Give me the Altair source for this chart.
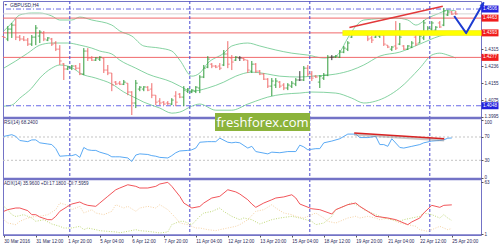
import altair as alt
import pandas as pd

# ---------------- data ----------------
bar_open = [1.4376,1.4364,1.4411,1.4430,1.4373,1.4364,1.4359,1.4340,1.4373,1.4378,
            1.4392,1.4359,1.4364,1.4345,1.4316,1.4246,1.4222,1.4226,1.4236,1.4226,
            1.4198,1.4307,1.4274,1.4264,1.4269,1.4274,1.4217,1.4203,1.4160,1.4155,
            1.4150,1.4155,1.4113,1.4061,1.4127,1.4127,1.4136,1.4127,1.4098,1.4070,
            1.4065,1.4061,1.4056,1.4094,1.4103,1.4089,1.4117,1.4113,1.4117,1.4132,
            1.4184,1.4231,1.4245,1.4236,1.4236,1.4241,1.4293,1.4274,1.4264,1.4274,
            1.4272,1.4264,1.4212,1.4245,1.4212,1.4198,1.4174,1.4141,1.4146,1.4160,
            1.4146,1.4132,1.4141,1.4151,1.4170,1.4170,1.4226,1.4198,1.4188,1.4160,
            1.4179,1.4193,1.4278,1.4278,1.4278,1.4302,1.4316,1.4373,1.4388,1.4397,
            1.4392,1.4383,1.4369,1.4373,1.4378,1.4383,1.4335,1.4316,1.4331,1.4340,
            1.4331,1.4316,1.4326,1.4373,1.4345,1.4369,1.4392,1.4411,1.4406,1.4440,
            1.4430,1.4478,1.4492,1.4487]
bar_high = [1.4378,1.4425,1.4440,1.4459,1.4383,1.4378,1.4369,1.4383,1.4430,1.4406,
            1.4402,1.4373,1.4369,1.4354,1.4335,1.4250,1.4236,1.4241,1.4241,1.4250,
            1.4321,1.4321,1.4283,1.4278,1.4283,1.4274,1.4241,1.4203,1.4165,1.4165,
            1.4170,1.4155,1.4117,1.4170,1.4141,1.4141,1.4141,1.4155,1.4098,1.4084,
            1.4070,1.4070,1.4084,1.4117,1.4108,1.4141,1.4132,1.4127,1.4141,1.4193,
            1.4241,1.4283,1.4250,1.4241,1.4250,1.4312,1.4354,1.4288,1.4283,1.4283,
            1.4274,1.4264,1.4260,1.4250,1.4217,1.4203,1.4179,1.4179,1.4179,1.4165,
            1.4155,1.4155,1.4165,1.4179,1.4212,1.4236,1.4241,1.4212,1.4193,1.4193,
            1.4203,1.4288,1.4288,1.4288,1.4312,1.4331,1.4354,1.4392,1.4402,1.4402,
            1.4402,1.4383,1.4378,1.4402,1.4402,1.4383,1.4335,1.4331,1.4449,1.4440,
            1.4335,1.4335,1.4354,1.4383,1.4383,1.4454,1.4425,1.4449,1.4425,1.4449,
            1.4511,1.4501,1.4497,1.4497]
bar_low = [1.4369,1.4354,1.4369,1.4359,1.4354,1.4354,1.4331,1.4331,1.4335,1.4345,
           1.4354,1.4354,1.4331,1.4307,1.4241,1.4170,1.4217,1.4217,1.4217,1.4193,
           1.4193,1.4260,1.4260,1.4260,1.4260,1.4203,1.4193,1.4117,1.4146,1.4146,
           1.4146,1.4098,1.4004,1.4037,1.4117,1.4117,1.4117,1.4084,1.4051,1.4051,
           1.4051,1.4051,1.4051,1.4046,1.4084,1.4046,1.4108,1.4108,1.4108,1.4108,
           1.4179,1.4226,1.4226,1.4226,1.4217,1.4236,1.4226,1.4217,1.4260,1.4260,
           1.4260,1.4203,1.4203,1.4203,1.4193,1.4170,1.4132,1.4094,1.4132,1.4132,
           1.4122,1.4122,1.4132,1.4141,1.4165,1.4165,1.4188,1.4165,1.4179,1.4132,
           1.4170,1.4188,1.4264,1.4274,1.4274,1.4297,1.4307,1.4369,1.4383,1.4383,
           1.4383,1.4354,1.4345,1.4369,1.4369,1.4331,1.4321,1.4307,1.4312,1.4335,
           1.4312,1.4312,1.4321,1.4331,1.4345,1.4359,1.4383,1.4402,1.4402,1.4416,
           1.4425,1.4473,1.4478,1.4478]
bar_close = [1.4371,1.4411,1.4430,1.4373,1.4364,1.4359,1.4340,1.4373,1.4416,1.4397,
             1.4364,1.4369,1.4340,1.4316,1.4260,1.4222,1.4231,1.4236,1.4226,1.4198,
             1.4307,1.4274,1.4264,1.4274,1.4278,1.4217,1.4203,1.4146,1.4151,1.4150,
             1.4160,1.4113,1.4061,1.4155,1.4136,1.4137,1.4122,1.4098,1.4065,1.4061,
             1.4056,1.4058,1.4075,1.4065,1.4089,1.4122,1.4127,1.4122,1.4136,1.4184,
             1.4226,1.4269,1.4236,1.4231,1.4226,1.4293,1.4245,1.4255,1.4278,1.4274,
             1.4266,1.4217,1.4245,1.4212,1.4198,1.4174,1.4141,1.4165,1.4165,1.4141,
             1.4132,1.4146,1.4155,1.4170,1.4170,1.4226,1.4198,1.4179,1.4184,1.4188,
             1.4193,1.4278,1.4278,1.4283,1.4302,1.4321,1.4345,1.4388,1.4397,1.4388,
             1.4385,1.4364,1.4359,1.4392,1.4392,1.4340,1.4326,1.4326,1.4321,1.4373,
             1.4316,1.4331,1.4345,1.4340,1.4378,1.4440,1.4416,1.4440,1.4420,1.4421,
             1.4497,1.4492,1.4482,1.4483]

bb_up_i = [0,2,4,7,9,12,14,17,19,22,27,29,32,35,39,42,44,47,49,51,
           55,57,61,64,68,72,76,80,83,84,86,88,90,98,101,103,106,109,111,113]
bb_up_p = [1.4402,1.4440,1.4478,1.4487,1.4487,1.4473,1.4454,1.4454,1.4468,1.4454,
           1.4430,1.4402,1.4378,1.4331,1.4321,1.4307,1.4264,1.4188,1.4203,1.4250,
           1.4297,1.4331,1.4345,1.4331,1.4312,1.4297,1.4288,1.4274,1.4283,1.4302,
           1.4369,1.4425,1.4454,1.4463,1.4454,1.4430,1.4463,1.4487,1.4501,1.4497]
bb_mid_i = [0,3,6,9,12,16,19,22,24,27,29,33,36,42,44,47,51,55,58,62,
            66,69,74,77,81,83,87,90,94,99,104,109,113]
bb_mid_p = [1.4226,1.4260,1.4297,1.4335,1.4345,1.4345,1.4335,1.4321,1.4307,1.4293,
            1.4264,1.4226,1.4198,1.4160,1.4141,1.4117,1.4132,1.4160,1.4188,1.4207,
            1.4198,1.4188,1.4184,1.4188,1.4193,1.4198,1.4217,1.4241,1.4283,1.4302,
            1.4340,1.4378,1.4392]
bb_lo_i = [0,2,4,7,9,12,14,16,18,19,23,27,30,33,35,39,42,44,47,49,
           53,57,61,63,66,70,74,77,83,87,90,93,99,104,107,109,111,113]
bb_lo_p = [1.4046,1.4051,1.4084,1.4132,1.4179,1.4226,1.4241,1.4236,1.4217,1.4203,
           1.4179,1.4151,1.4113,1.4084,1.4065,1.4037,1.4013,1.4018,1.4046,1.4056,
           1.4027,1.4027,1.4056,1.4070,1.4089,1.4103,1.4108,1.4113,1.4108,1.4084,
           1.4061,1.4070,1.4132,1.4226,1.4288,1.4297,1.4288,1.4274]

rsi_i = [0,2,3,4,6,7,8,9,11,12,13,14,16,17,18,19,20,21,22,23,24,26,27,28,29,31,32,33,34,36,
         37,38,39,41,42,43,44,46,47,48,49,51,52,53,54,56,57,58,59,61,62,63,66,67,69,71,73,74,75,76,
         78,79,80,82,84,86,88,89,91,93,94,95,96,97,99,100,102,104,105,107,109,110,111,112]
rsi_v = [71,74,71,64,62,65,65,60,58,57,50,37,38,38,40,35,52,48,47,47,44,40,36,36,36,34,28,39,41,40,
         38,37,35,34,38,43,46,47,48,51,61,62,62,62,68,61,60,61,60,51,54,45,41,44,43,45,45,56,53,48,
         50,50,60,63,67,75,75,69,69,71,57,57,54,67,52,51,54,57,60,63,64,65,68,68.24]

adx_i = [0,1,3,4,6,7,8,9,11,12,13,14,16,17,19,20,21,23,24,26,28,29,31,33,34,36,38,39,41,42,
         44,45,47,49,50,52,54,56,58,59,61,62,63,65,67,68,70,72,73,74,77,79,82,83,86,88,89,91,93,96,
         98,101,102,104,105,107,109,110,112]
adx_v = [28.2,30.2,32.2,32.2,29,24.2,24.2,21.4,18.2,18.2,22.2,28.2,34.2,37,39.4,37,35.4,34.2,38.2,46.2,
         54.1,56.2,60.1,58.2,56.2,56.2,58.2,61,63,58.2,46.2,38.2,32.2,34,38.2,44.2,46.2,54.1,51.5,49,
         42.1,37,33,38.2,42.1,44.2,45.5,48.1,44.2,37,31.3,30.2,25,30.2,36.2,38.2,34.2,28.2,22.2,20.2,
         18.2,12.2,15.5,20.2,26.2,35.4,33,35.4,35.96]
pdi_i = [0,1,2,3,5,7,8,10,12,14,15,17,19,20,21,23,24,26,28,29,31,33,34,36,38,39,41,42,44,45,
         47,49,50,52,54,55,57,59,60,62,64,67,69,72,74,77,78,80,82,83,85,87,89,90,92,94,95,97,99,100,
         102,104,105,107,109,110,111,112]
pdi_v = [34.2,30,24.2,22,24.2,20.2,16.2,18.2,13,10.2,8.2,8.2,10.2,6.2,8.2,6.2,5,4.2,3.5,2.5,
         4.2,6.2,5,4.2,3,2.2,3.5,12.2,16.2,16.2,12.2,22.2,26.2,28,32.2,28,22.2,18.2,20.2,18.2,
         13,18.2,20.2,22.2,20.2,16.2,12.2,14.2,22.2,30.2,34.2,38.2,34.2,30.2,26.2,22.2,20.2,18.2,16.2,18.2,
         20.2,22.2,26.2,24.2,20.2,24.2,20.2,17.18]
mdi_i = [0,1,3,4,6,8,9,11,13,14,16,17,19,20,21,22,23,25,27,28,30,31,33,34,36,38,39,41,43,44,
         46,48,49,51,53,54,56,58,59,61,63,65,67,68,70,72,73,75,77,78,80,81,83,84,86,88,89,91,93,94,
         96,98,99,101,103,104,106,108,109,111,112]
mdi_v = [18.2,14.2,12.2,16.2,20.2,22.2,22.2,24.2,30.2,38.2,35.4,30.2,34.2,26.2,28.2,30.2,26.2,24.2,28.2,36.2,
         32.2,34.2,28.2,32.2,34.2,32.2,36.2,30.2,20.2,14.2,12.2,8.2,8.2,6.2,5,6.2,8.2,10.2,12.2,18.2,
         28.2,30.2,36.2,32.2,26.2,24.2,22.2,20.2,24.2,26.2,20.2,16.2,14.2,16.2,20.2,22.2,20.2,22.2,20.2,18.2,
         20.2,16.2,14.2,12.2,10.2,6.2,4.2,8.2,10.2,6.2,7.6]

red_levels = [1.4463, 1.4393, 1.4277]
blue_levels = [1.4506, 1.4048]
price_ticks = [1.4315, 1.4236, 1.4155, 1.4075, 1.3995]
week_starts = [16.5, 46.5, 76.5, 106.5]
time_tick_pos = [0, 8, 16, 24, 32, 40, 48, 56, 64, 72, 80, 88, 96, 104, 112]
time_tick_txt = ["30 Mar 2016", "31 Mar 12:00", "1 Apr 20:00", "5 Apr 04:00", "6 Apr 12:00",
                 "7 Apr 20:00", "11 Apr 04:00", "12 Apr 12:00", "13 Apr 20:00", "15 Apr 04:00",
                 "18 Apr 12:00", "19 Apr 20:00", "21 Apr 04:00", "22 Apr 12:00", "25 Apr 20:00"]
trend_i = [86.4, 109.75]
trend_p = [1.4419, 1.4519]
rsi_trend_i = [87.6, 110.1]
rsi_trend_v = [76.9, 67.0]
arrow_i = [112.6, 115.6, 120.0]
arrow_p = [1.4473, 1.4392, 1.4538]
zone_start, zone_end, zone_level = 84.7, 120.0, 1.4393
rsi_levels = [70, 30]
rsi_ticks = [100, 70, 30, 0]
adx_ticks = [63, 1]

# ---------------- layout / style ----------------
W = 478
H_PRICE, H_RSI, H_ADX = 117, 61, 56
X_DOM = [-0.2, 119.3]
P_DOM = [1.3990, 1.4544]
R_DOM = [-2.1, 102.6]
A_DOM = [-0.2, 67.0]
FRAME = "#7373c6"
SEP = "#4b4bd0"
FONT = "Liberation Sans"
TXT = "#2a2a5a"
FS = 4.6
UP, DOWN, FLAT = "#2f9c3a", "#f06a6a", "#3a3a3a"
BOX_BLUE, BOX_RED = "#2222dd", "#f01c1c"
JOIN = dict(strokeJoin="round")


def build(shift_top_label=True):
    xs = alt.Scale(domain=X_DOM, nice=False, zero=False)
    ps = alt.Scale(domain=P_DOM, nice=False, zero=False)
    rs = alt.Scale(domain=R_DOM, nice=False, zero=False)
    as_ = alt.Scale(domain=A_DOM, nice=False, zero=False)

    def right_axis(values, fmt=None, **extra):
        kw = dict(orient="right", values=values, title=None, grid=False, domain=False,
                  tickSize=2, tickColor="#555", labelFontSize=FS, labelColor=TXT,
                  labelPadding=1, labelFont=FONT)
        if fmt:
            kw["format"] = fmt
        kw.update(extra)
        return alt.Axis(**kw)

    label_expr = "[" + ",".join(f"'{t}'" for t in time_tick_txt) + "][round(datum.value / 8)]"
    x_axis = alt.Axis(values=time_tick_pos, labelExpr=label_expr, labelAlign="left", labelFontSize=FS,
                      labelFont=FONT, labelColor=TXT, tickSize=2, tickColor="#555", domain=False,
                      grid=False, title=None, labelPadding=1, labelOverlap=False, labelFlush=False,
                      labelBound=False)

    price_axis = right_axis(price_ticks, ".4f")
    if shift_top_label:
        rsi_axis = right_axis(rsi_ticks, labelBaseline={
            "condition": {"test": "datum.value == 100", "value": "top"}, "value": "middle"})
    else:
        rsi_axis = right_axis(rsi_ticks)
    adx_axis = right_axis(adx_ticks)

    def X(field="i", axis=None):
        return alt.X(f"{field}:Q", scale=xs, axis=axis)

    def PY(field):
        return alt.Y(f"{field}:Q", scale=ps, axis=price_axis)

    def RY(field):
        return alt.Y(f"{field}:Q", scale=rs, axis=rsi_axis)

    def AY(field):
        return alt.Y(f"{field}:Q", scale=as_, axis=adx_axis)

    def weeks(axis=None):
        return alt.Chart(pd.DataFrame({"i": week_starts})).mark_rule(
            color=SEP, strokeWidth=1, strokeDash=[3, 2]).encode(x=X(axis=axis))

    def top_sep():
        return alt.Chart(pd.DataFrame({"a": [0]})).mark_rule(color=FRAME, strokeWidth=2.5).encode(
            x=alt.value(0), x2=alt.value(W), y=alt.value(0))

    # ---- price panel ----
    bars = pd.DataFrame({"i": list(range(len(bar_open))), "o": bar_open, "h": bar_high,
                         "l": bar_low, "c": bar_close})
    bars["dir"] = ["up" if c > o else ("down" if c < o else "flat") for o, c in zip(bar_open, bar_close)]
    bcol = alt.Color("dir:N", scale=alt.Scale(domain=["up", "down", "flat"], range=[UP, DOWN, FLAT]),
                     legend=None)

    bands = pd.concat([
        pd.DataFrame({"i": bb_up_i, "p": bb_up_p, "band": "upper"}),
        pd.DataFrame({"i": bb_mid_i, "p": bb_mid_p, "band": "middle"}),
        pd.DataFrame({"i": bb_lo_i, "p": bb_lo_p, "band": "lower"}),
    ])
    band_layer = alt.Chart(bands).mark_line(color="#86d3a2", strokeWidth=1, interpolate="monotone",
                                            **JOIN).encode(x=X(), y=PY("p"), detail="band:N")

    red_rules = alt.Chart(pd.DataFrame({"p": red_levels})).mark_rule(color="#f0696b", strokeWidth=1).encode(
        y=PY("p"))
    blue_rules = alt.Chart(pd.DataFrame({"p": blue_levels})).mark_rule(
        color="#6a6ae6", strokeWidth=1, strokeDash=[5, 2, 1, 2]).encode(y=PY("p"))
    bid_rule = alt.Chart(pd.DataFrame({"p": [bar_close[-1]]})).mark_rule(color="#d4d4d4", strokeWidth=1).encode(
        y=PY("p"))

    hl = alt.Chart(bars).mark_rule(strokeWidth=1).encode(x=X(), y=PY("l"), y2="h:Q", color=bcol)
    op = alt.Chart(bars).mark_tick(orient="horizontal", size=2, thickness=1, xOffset=-1).encode(
        x=X(), y=PY("o"), color=bcol)
    cl = alt.Chart(bars).mark_tick(orient="horizontal", size=2, thickness=1, xOffset=1).encode(
        x=X(), y=PY("c"), color=bcol)

    zone_df = pd.DataFrame({"i": [zone_start], "i2": [zone_end], "p": [zone_level]})
    zone_edge = alt.Chart(zone_df).mark_rule(color="#d8d040", strokeWidth=6, opacity=0.6).encode(
        x=X(), x2="i2:Q", y=PY("p"))
    zone = alt.Chart(zone_df).mark_rule(color="#ffff00", strokeWidth=5).encode(x=X(), x2="i2:Q", y=PY("p"))

    trend = alt.Chart(pd.DataFrame({"i": trend_i, "p": trend_p})).mark_line(
        color="#e2383a", strokeWidth=1.5, **JOIN).encode(x=X(), y=PY("p"))

    arrow_df = pd.DataFrame({"i": arrow_i, "p": arrow_p})
    arrow = alt.Chart(arrow_df).mark_line(color="#1d3cd2", strokeWidth=2, **JOIN).encode(x=X(), y=PY("p"))
    arrow_head = alt.Chart(arrow_df.tail(1)).mark_point(
        shape="triangle-up", angle=28, size=26, filled=True, opacity=1, color="#1d3cd2", strokeWidth=0,
        yOffset=2.2, xOffset=-1).encode(x=X(), y=PY("p"))

    def box_layer(levels, colour):
        df = pd.DataFrame({"p": levels, "txt": [f"{v:.4f}" for v in levels]})
        rect = alt.Chart(df).mark_point(shape="M-1,-0.41H1V0.41H-1Z", size=289, filled=True, opacity=1,
                                        strokeWidth=0, color=colour).encode(x=alt.value(487), y=PY("p"))
        txt = alt.Chart(df).mark_text(color="white", fontSize=FS, font=FONT, align="center",
                                      baseline="middle").encode(x=alt.value(487), y=PY("p"), text="txt:N")
        return rect + txt

    sym_icon = alt.Chart(pd.DataFrame({"t": ["\u25bc"]})).mark_text(
        fontSize=3.5, color="#404080", align="left", baseline="middle").encode(
        x=alt.value(1), y=alt.value(3.5), text="t:N")
    sym_title = alt.Chart(pd.DataFrame({"t": ["GBPUSD,H4"]})).mark_text(
        fontSize=5, font=FONT, color=TXT, align="left", baseline="middle").encode(
        x=alt.value(7), y=alt.value(3.5), text="t:N")

    price = alt.layer(band_layer, red_rules, blue_rules, bid_rule, weeks(), hl, op, cl,
                      zone_edge, zone, trend, arrow, arrow_head,
                      box_layer(blue_levels, BOX_BLUE), box_layer(red_levels, BOX_RED),
                      sym_icon, sym_title).properties(width=W, height=H_PRICE)

    # ---- RSI panel ----
    rsi_df = pd.DataFrame({"i": rsi_i, "v": rsi_v})
    rsi_lvl = alt.Chart(pd.DataFrame({"v": rsi_levels})).mark_rule(
        color="#c4c4c4", strokeWidth=1, strokeDash=[2, 2]).encode(y=RY("v"))
    rsi_line = alt.Chart(rsi_df).mark_line(color="#5aaaf5", strokeWidth=1, **JOIN).encode(x=X(), y=RY("v"))
    rt_df = pd.DataFrame({"i": rsi_trend_i, "v": rsi_trend_v})
    rsi_tr_shadow = alt.Chart(rt_df).mark_line(color="#8a8a8a", strokeWidth=2.5, opacity=0.45, yOffset=1.5,
                                               **JOIN).encode(x=X(), y=RY("v"))
    rsi_tr = alt.Chart(rt_df).mark_line(color="#d82222", strokeWidth=1.5, **JOIN).encode(x=X(), y=RY("v"))
    rsi_title = alt.Chart(pd.DataFrame({"t": [f"RSI(14) {rsi_v[-1]:.4f}"]})).mark_text(
        fontSize=FS, font=FONT, color=TXT, align="left", baseline="middle").encode(
        x=alt.value(1), y=alt.value(5), text="t:N")
    wm_box = alt.Chart(pd.DataFrame({"a": [0]})).mark_point(
        shape="M-1,-0.19H1V0.19H-1Z", size=9025, filled=True, opacity=1, strokeWidth=0,
        color="#8cb33b").encode(x=alt.value(259.5), y=alt.value(4))
    wm_txt = alt.Chart(pd.DataFrame({"t": ["freshforex.com"]})).mark_text(
        fontSize=13, font="Open Sans", color="white", align="center", baseline="middle").encode(
        x=alt.value(259.5), y=alt.value(4.5), text="t:N")

    rsi = alt.layer(rsi_lvl, weeks(), rsi_line, rsi_tr_shadow, rsi_tr, rsi_title, top_sep(),
                    wm_box, wm_txt).properties(width=W, height=H_RSI)

    # ---- ADX panel ----
    pdi_line = alt.Chart(pd.DataFrame({"i": pdi_i, "v": pdi_v})).mark_line(
        strokeWidth=1, strokeDash=[1, 1.5], color="#c0d978", **JOIN).encode(x=X(axis=x_axis), y=AY("v"))
    mdi_line = alt.Chart(pd.DataFrame({"i": mdi_i, "v": mdi_v})).mark_line(
        strokeWidth=1, strokeDash=[1, 1.5], color="#f6d3a6", **JOIN).encode(x=X(axis=x_axis), y=AY("v"))
    adx_line = alt.Chart(pd.DataFrame({"i": adx_i, "v": adx_v})).mark_line(
        color="#f2555a", strokeWidth=1, **JOIN).encode(x=X(axis=x_axis), y=AY("v"))
    adx_title = alt.Chart(pd.DataFrame(
        {"t": [f"ADX(14) {adx_v[-1]:.4f} +DI:{pdi_v[-1]:.4f} -DI:7.5959"]})).mark_text(
        fontSize=FS, font=FONT, color=TXT, align="left", baseline="middle").encode(
        x=alt.value(1), y=alt.value(4.5), text="t:N")
    bottom_line = alt.Chart(pd.DataFrame({"a": [0]})).mark_rule(color=FRAME, strokeWidth=1.5).encode(
        x=alt.value(0), x2=alt.value(W), y=alt.value(H_ADX))

    adx = alt.layer(weeks(axis=x_axis), pdi_line, mdi_line, adx_line, adx_title, top_sep(), bottom_line
                    ).properties(width=W, height=H_ADX)

    return alt.vconcat(price, rsi, adx, spacing=0, bounds="flush").properties(
        padding={"left": 1, "top": 0, "right": 0, "bottom": 0}
    ).configure(background="white").configure_view(stroke=FRAME, strokeWidth=1)


try:
    chart = build(True)
    chart.save("out.html", embed_options={"renderer": "svg", "actions": False})
except Exception:
    chart = build(False)
    chart.save("out.html", embed_options={"renderer": "svg", "actions": False})
